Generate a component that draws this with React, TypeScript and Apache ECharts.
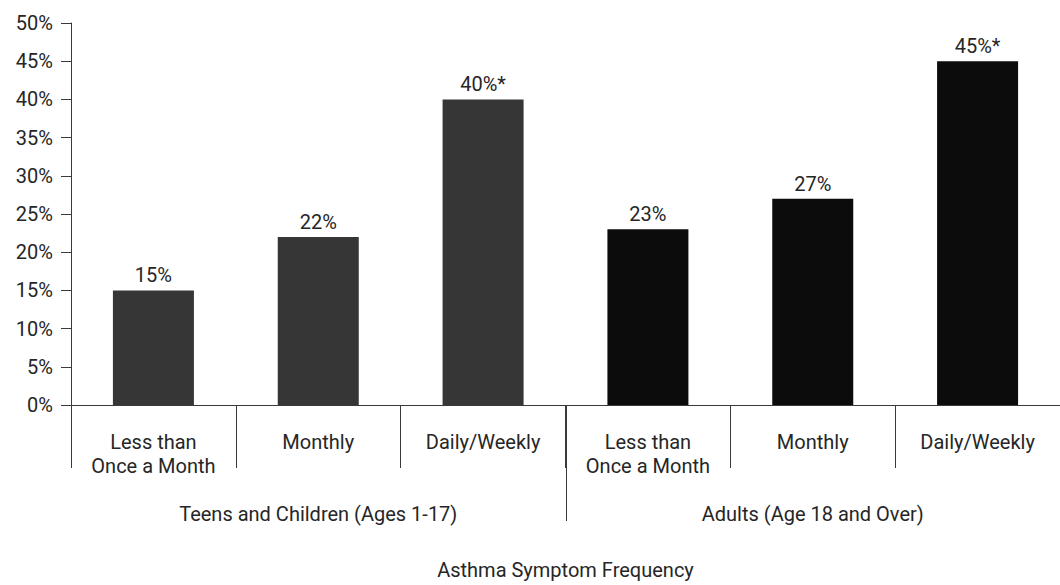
import React, { useEffect, useRef } from "react";
import * as echarts from "echarts";

const categories = [
  "Less than\nOnce a Month",
  "Monthly",
  "Daily/Weekly",
  "Less than\nOnce a Month",
  "Monthly",
  "Daily/Weekly",
];
const groups = ["Teens and Children (Ages 1-17)", "Adults (Age 18 and Over)"];
const values = [15, 22, 40, 23, 27, 45];
const labels = ["15%", "22%", "40%*", "23%", "27%", "45%*"];
const groupOf = [0, 0, 0, 1, 1, 1];
const xTitle = "Asthma Symptom Frequency";

const FONT = "Roboto, 'Noto Sans', sans-serif";
const TEXT = "#262626";
const LINE = "#3a3a3a";
const COLORS = ["#363636", "#0c0c0c"];
const FS = 20;

export default function App() {
  const ref = useRef<HTMLDivElement>(null);
  useEffect(() => {
    if (!ref.current) return;
    const chart = echarts.init(ref.current, null, { renderer: "svg" });
    chart.setOption({
      animation: false,
      textStyle: { fontFamily: FONT },
      grid: { left: 71, right: -8, top: 23, bottom: 176, containLabel: false },
      xAxis: [
        {
          type: "category",
          data: categories,
          axisLine: { show: true, lineStyle: { color: LINE, width: 1 } },
          axisTick: { show: true, interval: 0, length: 63, lineStyle: { color: LINE, width: 1 } },
          axisLabel: {
            interval: 0,
            margin: 25,
            fontSize: FS,
            lineHeight: 24,
            color: TEXT,
            fontFamily: FONT,
          },
          name: xTitle,
          nameLocation: "middle",
          nameGap: 155,
          nameTextStyle: { fontSize: FS, color: TEXT, fontFamily: FONT },
        },
        {
          type: "category",
          data: groups,
          position: "bottom",
          offset: 0,
          axisLine: { show: false },
          axisTick: { show: false },
          axisLabel: { interval: 0, margin: 99, fontSize: FS, color: TEXT, fontFamily: FONT },
        },
      ],
      yAxis: {
        type: "value",
        min: 0,
        max: 50,
        interval: 5,
        axisLine: { show: true, lineStyle: { color: LINE, width: 1 } },
        axisTick: { show: true, length: 10, lineStyle: { color: LINE, width: 1 } },
        splitLine: { show: false },
        axisLabel: {
          formatter: "{value}%",
          margin: 18,
          fontSize: FS,
          color: TEXT,
          fontFamily: FONT,
        },
      },
      series: [
        {
          type: "bar",
          xAxisIndex: 0,
          barWidth: 81,
          data: values.map((v, i) => ({
            value: v,
            itemStyle: { color: COLORS[groupOf[i]] },
            label: { formatter: labels[i] },
          })),
          label: {
            show: true,
            position: "top",
            distance: 5,
            fontSize: FS,
            color: TEXT,
            fontFamily: FONT,
          },
        },
      ],
    });
    // separator between the two groups, placed from the axis scales
    const x2 = chart.convertToPixel({ xAxisIndex: 0 }, 2) as number;
    const x3 = chart.convertToPixel({ xAxisIndex: 0 }, 3) as number;
    const y0 = chart.convertToPixel({ yAxisIndex: 0 }, 0) as number;
    const xs = Math.round((x2 + x3) / 2) + 0.5;
    chart.setOption({
      graphic: [
        {
          type: "line",
          shape: { x1: xs, y1: y0, x2: xs, y2: y0 + 116 },
          style: { stroke: LINE, lineWidth: 1 },
        },
      ],
    });
    return () => chart.dispose();
  }, []);
  return (
    <div
      ref={ref}
      style={{ position: "absolute", left: 0, top: 0, width: 1060, height: 585, background: "#fff" }}
    />
  );
}
